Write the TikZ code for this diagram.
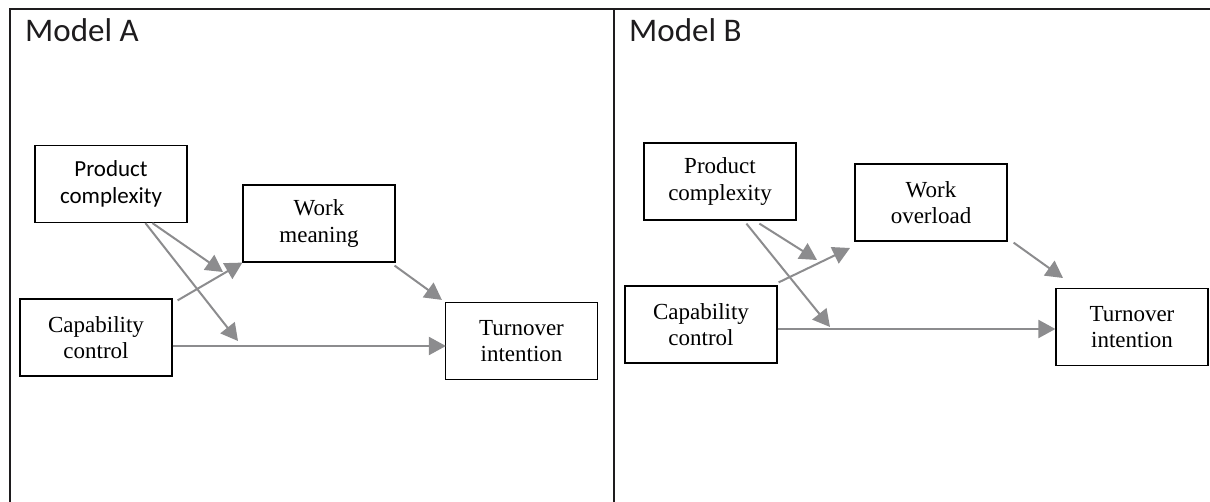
\documentclass[tikz,border=0pt]{standalone}
\usepackage{fontspec}
\setmainfont{Liberation Serif}
\newfontfamily\calib{Carlito}
\usetikzlibrary{arrows.meta}
\definecolor{arrgray}{RGB}{140,140,142}
\definecolor{framec}{RGB}{30,28,30}
\tikzset{
  boxnode/.style={draw=black, line width=1.2pt, minimum width=152pt, minimum height=77pt,
    inner sep=0pt, align=center, font=\fontsize{23}{26.5}\selectfont},
  arr/.style={draw=arrgray, line width=2pt, -{Triangle[length=17pt,width=18pt]}},
  framel/.style={draw=framec, line width=2pt},
  title/.style={anchor=base west, inner sep=0pt, font=\calib\fontsize{33}{38}\selectfont, text=framec}
}
\begin{document}
\begin{tikzpicture}[x=1pt,y=-1pt]
\useasboundingbox (0,0) rectangle (1210,502);
% frame
\coordinate (ftl) at (9,9);
\coordinate (ftr) at (1210,9);
\coordinate (fbl) at (10,502);
\coordinate (fdt) at (613.5,9);
\coordinate (fdb) at (613.5,502);
\draw[framel] (ftl) -- (ftr);
\draw[framel] (ftl -| fbl) -- (fbl);
\draw[framel] (fdt) -- (fdb);
% titles
\node[title] (tA) at (25,42) {Model A};
\node[title] (tB) at (629,42) {Model B};
% Model A boxes
\node[boxnode, font=\calib\fontsize{23}{26.5}\selectfont] (pcA) at (111,184) {Product\\complexity};
\node[boxnode] (wmA) at (319,223.5) {Work\\meaning};
\node[boxnode] (ccA) at (96,337.5) {Capability\\control};
\node[boxnode] (tiA) at (521.5,341) {Turnover\\intention};
% Model B boxes
\node[boxnode] (pcB) at (720,181.5) {Product\\complexity};
\node[boxnode] (woB) at (931,202.5) {Work\\overload};
\node[boxnode] (ccB) at (701,324.5) {Capability\\control};
\node[boxnode] (tiB) at (1132,327) {Turnover\\intention};
% free ends
\coordinate (a1end) at (223,272);
\coordinate (a2end) at (238,341);
\coordinate (b1end) at (817,260);
\coordinate (b2end) at (830,327);
\coordinate (b3end) at (850,248);
\coordinate (b4end) at (1063,278);
% Model A arrows
\draw[arr] ([xshift=118pt]pcA.south west) -- (a1end);
\draw[arr] ([xshift=111pt]pcA.south west) -- (a2end);
\draw[arr] ([xshift=5pt,yshift=-2pt]ccA.north east) -- (wmA.south west);
\draw[arr] ([xshift=-1pt,yshift=-3pt]wmA.south east) -- ([xshift=-3pt,yshift=2pt]tiA.north west);
\draw[arr] ([yshift=-8.5pt]ccA.east) -- ([xshift=1pt,yshift=-5pt]tiA.west);
% Model B arrows
\draw[arr] ([xshift=116pt,yshift=-3pt]pcB.south west) -- (b1end);
\draw[arr] ([xshift=103pt,yshift=-3pt]pcB.south west) -- (b2end);
\draw[arr] ([xshift=1pt,yshift=3pt]ccB.north east) -- (b3end);
\draw[arr] ([xshift=6pt,yshift=-1pt]woB.south east) -- (b4end);
\draw[arr] ([yshift=-4.5pt]ccB.east) -- ([yshift=-2pt]tiB.west);
\end{tikzpicture}
\end{document}
